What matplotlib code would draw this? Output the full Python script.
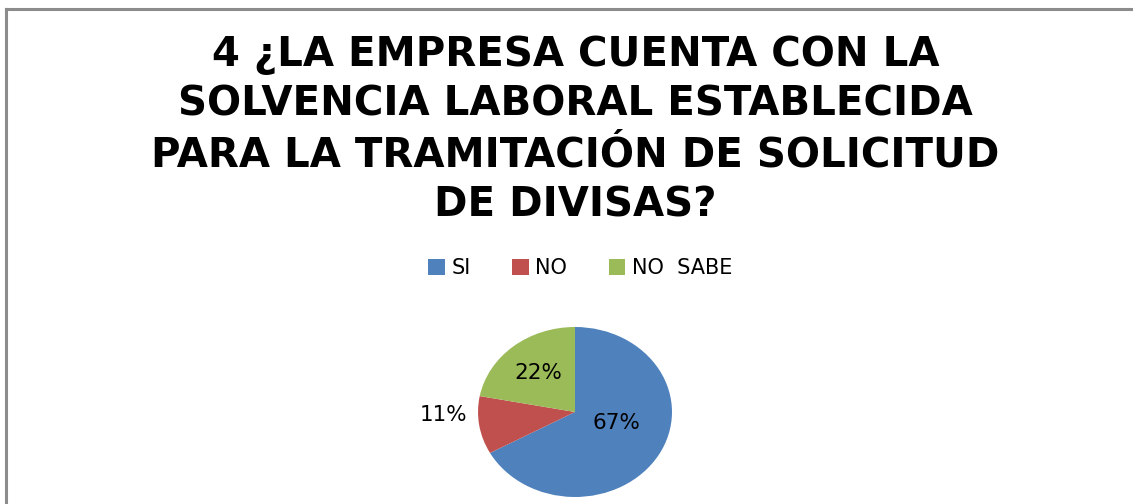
import numpy as np
import matplotlib.pyplot as plt
from matplotlib.patches import Patch
from matplotlib.lines import Line2D

# data
categories = ["SI", "NO", "NO  SABE"]
values = [67, 11, 22]
colors = ["#4F81BD", "#C0504D", "#9BBB59"]

title = "4 ¿LA EMPRESA CUENTA CON LA\nSOLVENCIA LABORAL ESTABLECIDA\nPARA LA TRAMITACIÓN DE SOLICITUD\nDE DIVISAS?"

fig = plt.figure(figsize=(11.33, 5.04), dpi=100)

# chart frame (only top and left edges show in the picture)
fig.add_artist(Line2D([0.0055, 0.0055], [0, 0.983], color="#8c8c8c", lw=2.2))
fig.add_artist(Line2D([0.0055, 1.0], [0.983, 0.983], color="#8c8c8c", lw=2.2))

fig.text(0.508, 0.742, title, ha="center", va="center", fontsize=29,
         fontweight="bold", family="DejaVu Sans", linespacing=1.33)

# squashed pie, as in the original
ax = fig.add_axes([0.4219, 0.0139, 0.1712, 0.3373])
wedges, texts, autotexts = ax.pie(values, colors=colors, startangle=90,
                                  counterclock=False, autopct="%1.0f%%",
                                  textprops={"fontsize": 15.5})
ax.set_aspect("auto")
ax.set_xlim(-1, 1)
ax.set_ylim(-1, 1)

# label placement per wedge (Excel "best fit"): distance and angle shift
dists = [0.45, 1.36, 0.59]
shifts = [13.6, -7.5, 0]
for w, t, d, s in zip(wedges, autotexts, dists, shifts):
    ang = np.deg2rad((w.theta1 + w.theta2) / 2 + s)
    t.set_position((d * np.cos(ang), d * np.sin(ang)))
    t.set_ha("center")
    t.set_va("center")

handles = [Patch(facecolor=c, edgecolor="none") for c in colors]
fig.legend(handles, categories, loc="center", bbox_to_anchor=(0.512, 0.468),
           ncol=3, frameon=False, fontsize=15, handlelength=0.8,
           handleheight=0.8, handletextpad=0.3, columnspacing=2.0)

fig.savefig("out.png", dpi=100)
